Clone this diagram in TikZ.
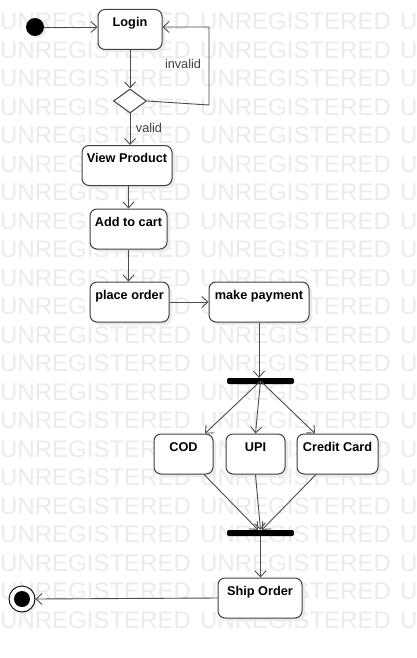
\documentclass[tikz,border=0pt]{standalone}
\usepackage{fontspec}
\setmainfont{Liberation Sans}
\usetikzlibrary{arrows.meta,shapes.geometric,shadows}
\begin{document}
\begin{tikzpicture}[x=1pt,y=-1pt,
  wm/.style={anchor=base west, inner sep=0pt, text=black!8, font=\fontsize{24}{24}\selectfont},
  box/.style={draw=black!75, fill=white, rounded corners=7pt, line width=1pt,
    minimum height=40pt, inner xsep=2pt, inner ysep=0pt, text height=17pt, text depth=23pt,
    font=\fontsize{12.7}{15}\selectfont\bfseries,
    drop shadow={shadow xshift=3pt, shadow yshift=-3pt, fill=black!8, opacity=1}},
  bar/.style={fill=black, rounded corners=2pt, minimum width=67pt, minimum height=6pt, inner sep=0pt},
  dia/.style={shape=diamond, draw=black!75, fill=white, line width=1pt, minimum width=33pt, minimum height=24pt, inner sep=0pt},
  lbl/.style={text=black!75, inner sep=0pt, font=\fontsize{12.7}{15}\selectfont},
  arr/.style={draw=black!70, line width=0.9pt, -{Straight Barb[length=6pt,width=11pt,line width=0.9pt]}},
  ln/.style={draw=black!70, line width=0.9pt}
]
\useasboundingbox (0,0) rectangle (417,658);
\fill[white] (0,0) rectangle (417,658);
\begin{scope}
\clip (0,0) rectangle (417,658);
\foreach \k in {0,...,21} {
  \foreach \x in {0,200,400} {
    \node[wm] (wm-\k-\x) at (\x, 30+28.48*\k) {UNREGISTERED};
  }
}
\end{scope}

% nodes
\node[circle, fill=black, minimum size=18pt, inner sep=0pt,
  drop shadow={shadow xshift=2pt, shadow yshift=-2pt, fill=black!8, opacity=1}] (init) at (35,27) {};
\node[box, minimum width=64pt] (login) at (130,29.5) {Login};
\node[dia] (dec) at (130,101) {};
\node[box, minimum width=90pt] (view) at (127,165.5) {View Product};
\node[box, minimum width=77pt] (add) at (128.5,229) {Add to cart};
\node[box, minimum width=79pt] (place) at (129.5,302) {place order};
\node[box, minimum width=100pt] (pay) at (259,302) {make payment};
\node[bar] (fork) at (260.5,381) {};
\node[box, minimum width=59pt] (cod) at (183.5,454) {COD};
\node[box, minimum width=59pt] (upi) at (255.5,454) {UPI};
\node[box, minimum width=81pt] (cc) at (337.5,454) {Credit Card};
\node[bar] (join) at (260.5,533) {};
\node[box, minimum width=84pt] (ship) at (260,598) {Ship Order};
\node[circle, draw=black, line width=0.9pt, fill=white, minimum size=26pt, inner sep=0pt,
  drop shadow={shadow xshift=2pt, shadow yshift=-2pt, fill=black!8, opacity=1}] (final) at (22,599) {};
\node[circle, fill=black, minimum size=16pt, inner sep=0pt] (finalin) at (22,599) {};

\coordinate (loop) at (209,105);

% connectors
\draw[arr] (init) -- (init -| login.west);
\draw[arr] (login.south) -- (dec.north);
\draw[arr] (dec.east) -- (loop) |- ([yshift=2.5pt]login.east);
\draw[arr] (dec.south) -- (dec.south |- view.north);
\draw[arr] (add.north |- view.south) -- (add.north);
\draw[arr] (add.south) -- (add.south |- place.north);
\draw[arr] (place.east) -- (pay.west);
\draw[arr] (pay.south) -- (pay.south |- fork.north);
\draw[arr] (fork.center) -- ([xshift=21.5pt]cod.north);
\draw[arr] (fork.center) -- (upi.north);
\draw[arr] (fork.center) -- ([xshift=-22.5pt]cc.north);
\draw[arr] ([xshift=20.5pt]cod.south) -- ([xshift=-2.5pt]join.north);
\draw[arr] (upi.south) -- (join.north);
\draw[arr] ([xshift=-21.5pt]cc.south) -- ([xshift=1.5pt]join.north);
\draw[arr] (join.south) -- (join.south |- ship.north);
\draw[arr] (ship.west) -- (final.east);

\node[lbl] (invalid) at (183,64) {invalid};
\node[lbl] (valid) at (149,128) {valid};
\end{tikzpicture}
\end{document}
